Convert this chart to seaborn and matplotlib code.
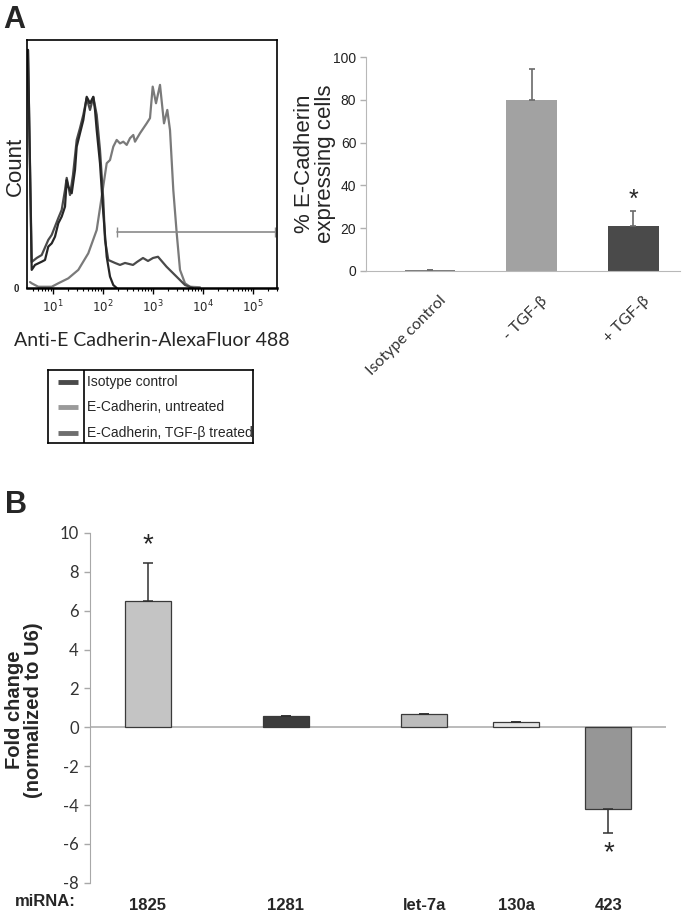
import numpy as np
import matplotlib
matplotlib.use('Agg')
import matplotlib.pyplot as plt
import matplotlib.transforms as mtransforms
import seaborn as sns

# --- Data ---
# flow cytometry traces: log10 fluorescence, count (% of axis height)
iso_logx = [0.50, 0.574, 0.64, 0.774, 0.84, 0.906, 0.974, 1.04, 1.106, 1.174, 1.24, 1.274,
            1.306, 1.374, 1.44, 1.474, 1.54, 1.606, 1.674, 1.74, 1.806, 1.84, 1.874, 1.94,
            2.006, 2.074, 2.14, 2.206, 2.274]
iso_count = [96, 7.3, 9.3, 10.6, 11.3, 16.7, 18.0, 20.7, 26.1, 28.8, 32.8, 43.5,
             40.8, 38.2, 47.6, 57.0, 62.4, 67.7, 77.1, 74.5, 77.1, 71.8, 63.7, 50.3,
             30.1, 12.6, 4.6, 1.2, 0]

tgf_logx = [0.50, 0.574, 0.674, 0.774, 0.906, 0.974, 1.106, 1.174, 1.24, 1.274, 1.34, 1.40,
            1.474, 1.54, 1.606, 1.674, 1.74, 1.806, 1.874, 1.94, 2.006, 2.04, 2.106, 2.24,
            2.34, 2.44, 2.60, 2.68, 2.80, 2.90, 3.00, 3.10, 3.27, 3.47, 3.64, 3.80]
tgf_count = [96, 10.5, 12.1, 13.3, 19.4, 21.4, 28.2, 31.5, 39.5, 44.4, 37.5, 45.6,
             59.7, 64.5, 69.8, 76.6, 71.8, 77.0, 69.8, 55.6, 35.5, 19.4, 11.3, 10.1,
             9.3, 10.1, 9.3, 10.5, 12.1, 10.9, 12.1, 12.6, 8.6, 4.6, 1.2, 0]

unt_logx = [0.54, 0.574, 0.706, 0.974, 1.106, 1.306, 1.506, 1.706, 1.874, 1.974, 2.074, 2.14,
            2.206, 2.274, 2.34, 2.406, 2.474, 2.54, 2.606, 2.64, 2.74, 2.874, 2.94, 2.994,
            3.06, 3.14, 3.22, 3.286, 3.34, 3.406, 3.474, 3.54, 3.64, 3.74, 3.94]
unt_count = [2.4, 1.9, 0.5, 0.5, 1.9, 3.9, 7.3, 14.0, 23.4, 36.8, 50.3, 51.6,
             57.0, 59.7, 58.3, 59.0, 57.7, 60.4, 61.7, 59.0, 62.4, 66.4, 68.5, 81.2,
             74.5, 81.9, 66.4, 71.8, 63.7, 39.5, 22.1, 7.3, 1.9, 0.5, 0.3]

gate_logx = [2.274, 5.44]
gate_count = 22.7

legend_labels = ['Isotype control', 'E-Cadherin, untreated', 'E-Cadherin, TGF-β treated']

pct_groups = ['Isotype control', '- TGF-β', '+ TGF-β']
pct_values = [0.5, 80, 21]
pct_err = [0, 14.5, 7]

mirna_labels = ['1825', '1281', 'let-7a', '130a', '423']
mirna_fold = [6.5, 0.6, 0.68, 0.28, -4.22]
mirna_err = [1.95, 0, 0, 0, 1.23]

# --- Layout / style ---
W, H = 698, 919
mirna_slots = [0, 3, 6, 8, 10]
pct_colors = ['#7c7c7c', '#a2a2a2', '#4a4a4a']
mirna_colors = ['#c4c4c4', '#3c3c3c', '#bcbcbc', '#e6e6e6', '#969696']

sns.set_style('white')
plt.rcParams['font.family'] = ['Liberation Sans', 'DejaVu Sans']
plt.rcParams['axes.unicode_minus'] = False


def box(l, t, r, b):
    return [l / W, 1 - b / H, (r - l) / W, (b - t) / H]


fig = plt.figure(figsize=(W / 100, H / 100), dpi=100)

# ---------- A: histogram ----------
ax1 = fig.add_axes(box(27, 40, 277, 288))
for lx, cnt, col in [(unt_logx, unt_count, '#7a7a7a'),
                     (tgf_logx, tgf_count, '#4a4a4a'),
                     (iso_logx, iso_count, '#262626')]:
    sns.lineplot(x=10 ** np.array(lx), y=cnt, ax=ax1, color=col, lw=1.6,
                 estimator=None, sort=False)
ax1.plot(10 ** np.array(gate_logx), [gate_count] * 2, color='#8a8a8a', lw=1.2,
         marker='|', markersize=7)
ax1.set_xscale('log')
ax1.set_xlim(10 ** 0.48, 10 ** 5.48)
ax1.set_ylim(0, 100)
ax1.set_xticks([10, 1e2, 1e3, 1e4, 1e5],
               ['$10^{1}$', '$10^{2}$', '$10^{3}$', '$10^{4}$', '$10^{5}$'])
ax1.tick_params(axis='x', which='major', direction='out', length=4, width=1,
                color='black', labelsize=8.5, pad=4, bottom=True)
ax1.tick_params(axis='x', which='minor', direction='out', length=2, width=0.8,
                color='black', bottom=True)
ax1.set_yticks([0], ['0'])
ax1.tick_params(axis='y', length=0, labelsize=7, pad=6)
for lab in ax1.get_yticklabels():
    lab.set_fontweight('bold')
for side, sp in ax1.spines.items():
    sp.set_visible(True)
    sp.set_color('black')
    sp.set_linewidth(1.8 if side == 'bottom' else 1.2)
ax1.set_xlabel('')
ax1.set_ylabel('')
fig.text(15 / W, 1 - 166 / H, 'Count', rotation=90, ha='center', va='center', fontsize=16)
fig.text(152 / W, 1 - 340 / H, 'Anti-E Cadherin-AlexaFluor 488', ha='center', va='center',
         fontsize=14, family=['Lato', 'DejaVu Sans'])

# legend box
lax = fig.add_axes(box(47.7, 370, 252.7, 442.7))
lax.set_xlim(0, 205)
lax.set_ylim(72.7, 0)
lax.set_xticks([])
lax.set_yticks([])
for sp in lax.spines.values():
    sp.set_visible(True)
    sp.set_color('black')
    sp.set_linewidth(1.2)
lax.axvline(36.3, color='black', lw=1.2)
for i, (lab, col) in enumerate(zip(legend_labels, ['#4a4a4a', '#9a9a9a', '#6e6e6e'])):
    yy = 11.7 + i * 25.5
    lax.plot([10, 30], [yy, yy], color=col, lw=3.5, solid_capstyle='butt')
    lax.text(39.5, yy, lab, va='center', ha='left', fontsize=10)

# ---------- A: bar chart ----------
ax2 = fig.add_axes(box(366, 57.3, 680, 270.7))
sns.barplot(x=pct_groups, y=pct_values, hue=pct_groups, palette=pct_colors,
            width=0.5, saturation=1, legend=False, ax=ax2, edgecolor='none')
ax2.errorbar(range(len(pct_values)), pct_values,
             yerr=[np.zeros(len(pct_err)), pct_err], fmt='none',
             ecolor='#6a6a6a', elinewidth=1.2, capsize=2.5, capthick=1.2)
ax2.text(2, 33, '*', ha='center', va='center', fontsize=18)
ax2.set_xlim(-0.63, 2.46)
ax2.set_ylim(0, 100)
ax2.set_yticks(range(0, 101, 20))
ax2.tick_params(axis='y', direction='out', length=4, width=1, color='#b0b0b0',
                labelsize=10, left=True, pad=3, labelcolor='#222222')
ax2.tick_params(axis='x', length=0, labelsize=11.5, labelcolor='#333333', pad=20)
plt.setp(ax2.get_xticklabels(), rotation=45, ha='right', va='center',
         rotation_mode='anchor', family=['Lato', 'DejaVu Sans'])
for lab in ax2.get_xticklabels():
    lab.set_transform(lab.get_transform() +
                      mtransforms.ScaledTranslation(14 / 100, 0, fig.dpi_scale_trans))
for side in ['top', 'right']:
    ax2.spines[side].set_visible(False)
ax2.spines['left'].set_color('#b8b8b8')
ax2.spines['bottom'].set_color('#b8b8b8')
ax2.set_xlabel('')
ax2.set_ylabel('')
fig.text(315 / W, 1 - 164 / H, '% E-Cadherin\nexpressing cells', rotation=90,
         ha='center', va='center', fontsize=16, linespacing=1.05)

# ---------- B: miRNA bar chart ----------
ax3 = fig.add_axes(box(90, 532.8, 666, 882.9))
sns.barplot(x=mirna_slots, y=mirna_fold, hue=mirna_labels, palette=mirna_colors,
            native_scale=True, width=0.5, saturation=1, legend=False, ax=ax3,
            edgecolor='#3a3a3a', linewidth=0.9)
ax3.errorbar(mirna_slots, mirna_fold,
             yerr=[[e if v < 0 else 0 for v, e in zip(mirna_fold, mirna_err)],
                   [e if v > 0 else 0 for v, e in zip(mirna_fold, mirna_err)]],
             fmt='none', ecolor='#303030', elinewidth=1.1, capsize=3.5, capthick=1.1)
ax3.text(mirna_slots[0], 9.35, '*', ha='center', va='center', fontsize=20)
ax3.text(mirna_slots[4], -6.45, '*', ha='center', va='center', fontsize=20)
ax3.axhline(0, color='#a8a8a8', lw=1.1, zorder=0)
ax3.set_xlim(-1.25, 11.25)
ax3.set_ylim(-8, 10)
ax3.set_yticks(range(-8, 11, 2))
ax3.tick_params(axis='y', direction='out', length=4, width=1, color='#a8a8a8',
                left=True, labelsize=12, labelcolor='#333333', pad=4)
for lab in ax3.get_yticklabels():
    lab.set_family(['Lato', 'DejaVu Sans'])
ax3.set_xticks(mirna_slots, mirna_labels)
ax3.tick_params(axis='x', length=0, labelsize=12, pad=11)
for lab in ax3.get_xticklabels():
    lab.set_fontweight('bold')
for side in ['top', 'right', 'bottom']:
    ax3.spines[side].set_visible(False)
ax3.spines['left'].set_color('#a8a8a8')
ax3.set_xlabel('')
ax3.set_ylabel('')
fig.text(45 / W, 1 - 902 / H, 'miRNA:', ha='center', va='center', fontsize=12,
         fontweight='bold')
fig.text(24 / W, 1 - 710 / H, 'Fold change\n(normalized to U6)', rotation=90,
         ha='center', va='center', fontsize=14.5, fontweight='bold', linespacing=1.0)

# panel letters
fig.text(3 / W, 1 - 28 / H, 'A', fontsize=22, fontweight='bold', va='baseline')
fig.text(5 / W, 1 - 513 / H, 'B', fontsize=22, fontweight='bold', va='baseline')

fig.savefig('out.png', dpi=100)
